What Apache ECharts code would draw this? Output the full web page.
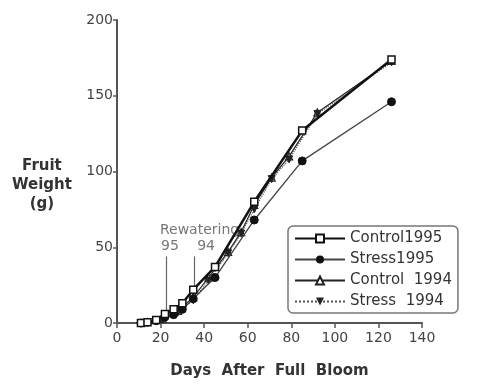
<!DOCTYPE html>
<html>
<head>
<meta charset="utf-8">
<script src="https://cdn.jsdelivr.net/npm/echarts@6/dist/echarts.min.js"></script>
<style>
  html, body { margin: 0; padding: 0; background: #fff; }
  #chart { width: 482px; height: 384px; }
</style>
</head>
<body>
<div id="chart"></div>
<script>
// days after full bloom and fruit weight (g)
const days95 = [11, 14, 18, 22, 26, 30, 35, 45, 63, 85, 126];
const control95 = [0, 0.5, 2, 6, 9, 13, 22, 37, 80, 127, 174];
const stress95 = [0, 0.5, 1.5, 4, 5.5, 9, 16, 30, 68, 107, 146];
const days94 = [21, 28, 35, 42, 51, 57, 63, 71, 79, 92, 126];
const control94 = [3, 8, 17, 30, 47, 60, 78, 96, 110, 139, 173];
const stress94 = [2, 7, 15, 28, 46, 59, 75, 95, 108, 138, 172];
const xTicks = [0, 20, 40, 60, 80, 100, 120, 140];
const yTicks = [0, 50, 100, 150, 200];
// rewatering dates (days) and top/bottom of the marker lines (g)
const rewaterDays = [22.8, 35.3];
const rewaterBottoms = [6.5, 23];
const rewaterTop = 44;

const chart = echarts.init(document.getElementById('chart'));

function pairs(xs, ys) {
  return xs.map((x, i) => [x, ys[i]]);
}

const axisLabelStyle = { color: '#444', fontSize: 14, fontFamily: 'DejaVu Sans' };

const option = {
  animation: false,
  grid: { left: 117, right: 60, top: 20, bottom: 59 },
  xAxis: {
    type: 'value', min: xTicks[0], max: xTicks[xTicks.length - 1], interval: 20,
    splitLine: { show: false },
    axisLine: { lineStyle: { color: '#555', width: 2 } },
    axisTick: { show: true, length: 5, lineStyle: { color: '#555', width: 1.5 } },
    axisLabel: Object.assign({ margin: 8 }, axisLabelStyle),
    name: 'Days  After  Full  Bloom', nameLocation: 'middle', nameGap: 41,
    nameTextStyle: { color: '#333', fontSize: 15, fontWeight: 'bold', fontFamily: 'DejaVu Sans' }
  },
  yAxis: {
    type: 'value', min: yTicks[0], max: yTicks[yTicks.length - 1], interval: 50,
    splitLine: { show: false },
    axisLine: { show: true, lineStyle: { color: '#555', width: 2 } },
    axisTick: { show: true, length: 4, lineStyle: { color: '#555', width: 1.5 } },
    axisLabel: Object.assign({ margin: 4 }, axisLabelStyle)
  },
  graphic: [{
    type: 'text', left: 12, top: 157,
    style: {
      text: 'Fruit\nWeight\n(g)', textAlign: 'center', x: 37,
      fill: '#333', font: 'bold 15px DejaVu Sans', lineHeight: 19
    }
  }],
  legend: {
    orient: 'vertical', left: 288, top: 226,
    data: ['Control1995', 'Stress1995', 'Control  1994', 'Stress  1994'],
    itemWidth: 50, itemHeight: 10, itemGap: 6,
    padding: [5, 6, 4, 6],
    borderColor: '#777', borderWidth: 1.5, borderRadius: 5,
    textStyle: { color: '#333', fontSize: 15, fontFamily: 'DejaVu Sans' }
  },
  series: [
    {
      name: 'Control1995', type: 'line', data: pairs(days95, control95),
      symbol: 'rect', symbolSize: 7,
      itemStyle: { color: '#fff', borderColor: '#111', borderWidth: 1.5 },
      lineStyle: { color: '#111', width: 2.5 }, z: 5
    },
    {
      name: 'Stress1995', type: 'line', data: pairs(days95, stress95),
      symbol: 'circle', symbolSize: 8,
      itemStyle: { color: '#111', borderColor: '#111' },
      lineStyle: { color: '#444', width: 1.3 }, z: 4
    },
    {
      name: 'Control  1994', type: 'line', data: pairs(days94, control94),
      symbol: 'triangle', symbolSize: 7,
      itemStyle: { color: '#fff', borderColor: '#222', borderWidth: 1.2 },
      lineStyle: { color: '#222', width: 1.2 }, z: 3
    },
    {
      name: 'Stress  1994', type: 'line', data: pairs(days94, stress94),
      symbol: 'triangle', symbolRotate: 180, symbolSize: 7,
      itemStyle: { color: '#222', borderColor: '#222' },
      lineStyle: { color: '#555', width: 1.2, type: 'dotted' }, z: 3
    },
    {
      name: 'notes', type: 'scatter', symbolSize: 0, silent: true,
      data: [
        { value: [19.7, 61], label: { formatter: 'Rewatering', position: 'right', distance: 0 } },
        { value: [24.3, 50.6], label: { formatter: '95', position: 'inside' } },
        { value: [40.9, 50.6], label: { formatter: '94', position: 'inside' } }
      ],
      label: { show: true, color: '#555', fontSize: 14, fontFamily: 'DejaVu Sans' },
      markLine: {
        silent: true, symbol: 'none', label: { show: false },
        lineStyle: { color: '#666', width: 1.2, type: 'solid' },
        data: rewaterDays.map((d, i) => [{ coord: [d, rewaterTop] }, { coord: [d, rewaterBottoms[i]] }])
      }
    }
  ]
};

chart.setOption(option);
</script>
</body>
</html>
